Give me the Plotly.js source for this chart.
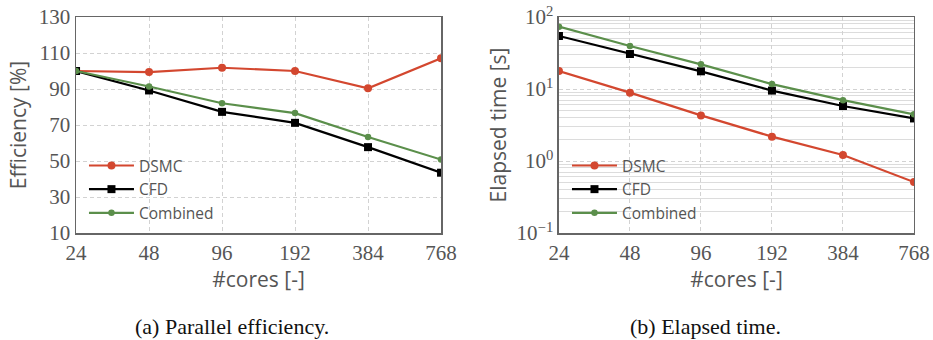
<!DOCTYPE html>
<html>
<head>
<meta charset="utf-8">
<script src="https://cdn.plot.ly/plotly-3.0.1.min.js"></script>
<style>html,body{margin:0;padding:0;background:#fff;}#chart{width:933px;height:340px;}</style>
</head>
<body>
<div id="chart"></div>
<script>
// Data
const cores = [24, 48, 96, 192, 384, 768];
const coreLabels = ["24", "48", "96", "192", "384", "768"];
const effDSMC = [100, 99.4, 101.8, 100, 90.4, 107.1];
const effCFD = [100, 89.2, 77.3, 71.2, 57.7, 43.5];
const effCombined = [100, 91.4, 82.1, 76.6, 63.3, 50.8];
const timeDSMC = [17.8, 8.9, 4.3, 2.18, 1.21, 0.51];
const timeCFD = [54.5, 30.6, 17.6, 9.5, 5.8, 3.9];
const timeCombined = [73.4, 39.5, 22.0, 11.7, 7.0, 4.45];
const effTicks = [10, 30, 50, 70, 90, 110, 130];
const timeTicks = [0.1, 1, 10, 100];
const timeTickLabels = ["10<sup>−1</sup>", "10<sup>0</sup>", "10<sup>1</sup>", "10<sup>2</sup>"];
const seriesNames = ["DSMC", "CFD", "Combined"];

const RED = "#d3472f", BLACK = "#000000", GREEN = "#5b8f4b";
const styles = [
  {color: RED, symbol: "circle", size: 8},
  {color: BLACK, symbol: "square", size: 8},
  {color: GREEN, symbol: "circle", size: 6.5}
];

const traces = [];
[effDSMC, effCFD, effCombined].forEach((ys, i) => {
  traces.push({x: cores, y: ys, name: seriesNames[i], mode: "lines+markers", xaxis: "x", yaxis: "y",
    line: {color: styles[i].color, width: 2.2}, marker: {color: styles[i].color, symbol: styles[i].symbol, size: styles[i].size},
    legend: "legend", legendgroup: "a" + i});
});
[timeDSMC, timeCFD, timeCombined].forEach((ys, i) => {
  traces.push({x: cores, y: ys, name: seriesNames[i], mode: "lines+markers", xaxis: "x2", yaxis: "y2",
    line: {color: styles[i].color, width: 2.2}, marker: {color: styles[i].color, symbol: styles[i].symbol, size: styles[i].size},
    legend: "legend2", legendgroup: "b" + i});
});

// minor grid positions on log axis (2..9 in each decade)
const minorVals = [];
for (let d = -1; d < 2; d++) for (let k = 2; k <= 9; k++) minorVals.push(k * Math.pow(10, d));

const tickFont = {family: "Liberation Serif, Times New Roman, serif", size: 21, color: "#555"};
const titleFont = {family: "Open Sans, DejaVu Sans, sans-serif", size: 21, color: "#555"};
const legendFont = {family: "Open Sans, DejaVu Sans, sans-serif", size: 15.5, color: "#555"};
const captionFont = {family: "Liberation Serif, Times New Roman, serif", size: 22, color: "#111"};
const xRange = [Math.log10(cores[0]), Math.log10(cores[cores.length - 1])];

const frame = {showline: true, mirror: true, linecolor: "#666", linewidth: 1.5, ticks: "", zeroline: false,
  showgrid: true, gridcolor: "#d2d2d2", griddash: "4px,3px", gridwidth: 1};

const layout = {
  width: 933, height: 340,
  margin: {l: 0, r: 0, t: 0, b: 0},
  paper_bgcolor: "#fff", plot_bgcolor: "#fff",
  showlegend: true,
  xaxis: Object.assign({domain: [0.0815, 0.4727], type: "log", range: xRange, tickmode: "array", tickvals: cores, ticktext: coreLabels,
    tickfont: tickFont, title: {text: "#cores [-]", font: titleFont, standoff: 7}, anchor: "y"}, frame),
  yaxis: Object.assign({domain: [0.3147, 0.95], range: [10, 130], tickmode: "array", tickvals: effTicks,
    tickfont: tickFont, title: {text: "Efficiency [%]", font: titleFont, standoff: 6}, anchor: "x"}, frame),
  xaxis2: Object.assign({domain: [0.5991, 0.9796], type: "log", range: xRange, tickmode: "array", tickvals: cores, ticktext: coreLabels,
    tickfont: tickFont, title: {text: "#cores [-]", font: titleFont, standoff: 7}, anchor: "y2"}, frame),
  yaxis2: Object.assign({domain: [0.3147, 0.95], type: "log", range: [-1, 2], tickmode: "array", tickvals: timeTicks, ticktext: timeTickLabels,
    tickfont: tickFont,
    minor: {tickmode: "array", tickvals: minorVals, showgrid: true, gridcolor: "#dcdcdc", gridwidth: 1, griddash: "solid", ticks: ""},
    title: {text: "Elapsed time [s]", font: titleFont, standoff: 4}, anchor: "x2"}, frame),
  legend: {x: 0.090, y: 0.562, xanchor: "left", yanchor: "top", bgcolor: "rgba(255,255,255,0)", borderwidth: 0,
    font: legendFont, itemwidth: 45, tracegroupgap: 0.5},
  legend2: {x: 0.6077, y: 0.562, xanchor: "left", yanchor: "top", bgcolor: "rgba(255,255,255,0)", borderwidth: 0,
    font: legendFont, itemwidth: 45, tracegroupgap: 0.5},
  annotations: [
    {text: "(a) Parallel efficiency.", xref: "paper", yref: "paper", x: 232 / 933, y: 1 - 326 / 340, xanchor: "center", yanchor: "middle",
      showarrow: false, font: captionFont},
    {text: "(b) Elapsed time.", xref: "paper", yref: "paper", x: 705 / 933, y: 1 - 326 / 340, xanchor: "center", yanchor: "middle",
      showarrow: false, font: captionFont}
  ]
};

Plotly.newPlot("chart", traces, layout, {displayModeBar: false, staticPlot: true});
</script>
</body>
</html>
